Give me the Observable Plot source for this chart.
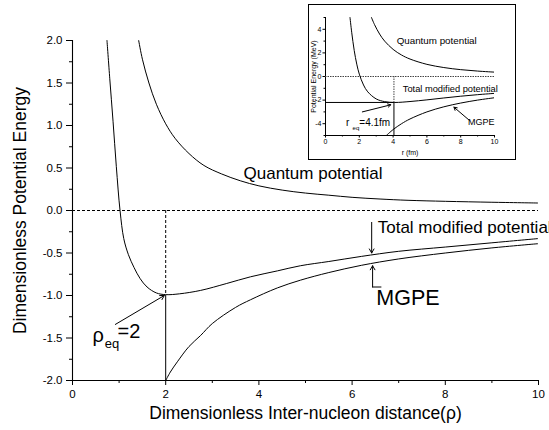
<!DOCTYPE html>
<html><head><meta charset="utf-8">
<script src="https://cdn.jsdelivr.net/npm/d3@7"></script>
<script src="https://cdn.jsdelivr.net/npm/@observablehq/plot@0.6"></script>
<style>
body{margin:0;background:#fff;}
#wrap{position:relative;width:549px;height:430px;overflow:hidden;background:#fff;}
#inset{position:absolute;left:308px;top:4px;width:206px;height:154px;border:1px solid #000;background:#fff;}
svg{display:block;}
</style></head><body><div id="wrap"><div id="main"></div><div id="inset"></div></div>
<script>
// ---------- Main chart data (dimensionless) ----------
const rhoQuantum = [1.42, 1.5, 1.64, 1.8, 2.0, 2.2, 2.5, 2.82, 3.2, 3.6, 4.0, 4.5, 5.0, 5.5, 6.0, 6.6, 7.2, 8.0, 9.0, 10.0];
const quantum    = [2.0, 1.78, 1.5, 1.25, 1.02, 0.85, 0.67, 0.53, 0.43, 0.35, 0.29, 0.24, 0.205, 0.18, 0.155, 0.135, 0.12, 0.108, 0.097, 0.088];
const rhoTotal   = [0.74, 0.8, 0.87, 0.94, 1.02, 1.1, 1.2, 1.32, 1.45, 1.6, 1.8, 2.0, 2.3, 2.75, 3.3, 3.82, 4.4, 4.89, 5.5, 6.2, 7.0, 8.0, 9.0, 10.0];
const total      = [2.0, 1.55, 1.05, 0.52, 0.0, -0.33, -0.52, -0.67, -0.8, -0.9, -0.97, -0.99, -0.98, -0.94, -0.86, -0.78, -0.71, -0.65, -0.6, -0.54, -0.48, -0.43, -0.38, -0.33];
const rhoMGPE    = [2.0, 2.1, 2.25, 2.5, 2.75, 3.0, 3.5, 3.82, 4.4, 4.89, 5.5, 6.2, 7.0, 8.0, 9.0, 10.0];
const mgpe       = [-2.0, -1.9, -1.78, -1.6, -1.47, -1.33, -1.14, -1.05, -0.91, -0.82, -0.73, -0.645, -0.57, -0.5, -0.44, -0.39];
const rhoEq = 2, eMin = -1;
const xMajor = [0, 2, 4, 6, 8, 10], xMajorLabels = ["0", "2", "4", "6", "8", "10"];
const xMinor = [1, 3, 5, 7, 9];
const yMajor = [-2, -1.5, -1, -0.5, 0, 0.5, 1, 1.5, 2];
const yMajorLabels = ["-2.0", "-1.5", "-1.0", "-0.5", "0.0", "0.5", "1.0", "1.5", "2.0"];
const yMinor = [-1.75, -1.25, -0.75, -0.25, 0.25, 0.75, 1.25, 1.75];

// ---------- Inset data (MeV vs fm) ----------
const rQuantum  = [2.72, 2.9, 3.2, 3.5, 4.0, 4.5, 5.0, 6.0, 7.0, 8.0, 9.0, 10.0];
const quantumMeV = [5.0, 4.4, 3.6, 3.0, 2.3, 1.82, 1.48, 1.03, 0.76, 0.58, 0.46, 0.37];
const rTotal    = [1.45, 1.55, 1.7, 1.85, 2.0, 2.25, 2.5, 3.0, 3.5, 4.1, 5.0, 6.0, 7.0, 8.0, 9.0, 10.0];
const totalMeV  = [5.0, 3.75, 2.2, 1.05, 0.2, -0.72, -1.3, -1.9, -2.13, -2.2, -2.12, -1.98, -1.82, -1.67, -1.54, -1.43];
const rMGPE     = [3.6, 4.0, 4.5, 5.0, 6.0, 7.0, 8.0, 9.0, 10.0];
const mgpeMeV   = [-5.0, -4.5, -4.0, -3.6, -3.0, -2.57, -2.25, -2.0, -1.8];
const rEq = 4.05, eMinMeV = -2.2;
const rMajor = [0, 2, 4, 6, 8, 10], rMajorLabels = ["0", "2", "4", "6", "8", "10"];
const rMinor = [1, 3, 5, 7, 9];
const eMajor = [-4, -2, 0, 2, 4], eMajorLabels = ["-4", "-2", "0", "2", "4"];
const eMinor = [-5, -3, -1, 1, 3, 5];

const FONT = "'Liberation Sans', Arial, Helvetica, sans-serif";
const id = d => d;

const main = Plot.plot({
  width: 549, height: 430,
  marginLeft: 72, marginRight: 11, marginTop: 40, marginBottom: 50,
  style: {fontFamily: FONT, fontSize: "11.5px", background: "white", color: "black"},
  x: {domain: [0, 10]},
  y: {domain: [-2, 2]},
  marks: [
    Plot.axisX(xMinor, {tickSize: 3, tickFormat: () => "", label: null}),
    Plot.axisX(xMajor, {tickSize: 5, tickPadding: 4, tickFormat: d => xMajorLabels[xMajor.indexOf(d)], label: null}),
    Plot.axisY(yMinor, {tickSize: 3, tickFormat: () => "", label: null}),
    Plot.axisY(yMajor, {tickSize: 6, tickPadding: 4, tickFormat: d => yMajorLabels[yMajor.indexOf(d)], label: null}),
    Plot.ruleX([0], {stroke: "black", strokeWidth: 1.1}),
    Plot.ruleY([-2], {stroke: "black", strokeWidth: 1.1}),
    // reference lines
    Plot.ruleY([0], {stroke: "black", strokeDasharray: "3,2"}),
    Plot.ruleX([rhoEq], {y1: [0], y2: [eMin], stroke: "black", strokeDasharray: "3,2"}),
    Plot.ruleX([rhoEq], {y1: [eMin], y2: [-2], stroke: "black"}),
    // curves
    Plot.line(quantum, {x: rhoQuantum, y: id, curve: "catmull-rom", stroke: "black", strokeWidth: 1, clip: true}),
    Plot.line(total, {x: rhoTotal, y: id, curve: "catmull-rom", stroke: "black", strokeWidth: 1, clip: true}),
    Plot.line(mgpe, {x: rhoMGPE, y: id, curve: "catmull-rom", stroke: "black", strokeWidth: 1, clip: true}),
    // annotations
    Plot.text(["Quantum potential"], {x: [3.67], y: [0.44], text: id, textAnchor: "start", fontSize: 17}),
    Plot.text(["Total modified potential"], {x: [6.55], y: [-0.196], text: id, textAnchor: "start", fontSize: 17}),
    Plot.arrow([0], {x1: [6.42], y1: [-0.14], x2: [6.42], y2: [-0.5], headLength: 7, stroke: "black", strokeWidth: 1}),
    Plot.text(["MGPE"], {x: [6.52], y: [-1.035], text: id, textAnchor: "start", fontSize: 21.5}),
    Plot.arrow([0], {x1: [6.44], y1: [-0.9], x2: [6.44], y2: [-0.65], headLength: 7, stroke: "black", strokeWidth: 1}),
    Plot.line([0, 1], {x: [6.44, 6.62], y: [-0.9, -0.9], stroke: "black", strokeWidth: 1}),
    Plot.text(["ρ"], {x: [0.43], y: [-1.47], text: id, textAnchor: "start", fontSize: 20}),
    Plot.text(["eq"], {x: [0.69], y: [-1.565], text: id, textAnchor: "start", fontSize: 13}),
    Plot.text(["=2"], {x: [0.966], y: [-1.43], text: id, textAnchor: "start", fontSize: 20}),
    Plot.arrow([0], {x1: [0.92], y1: [-1.34], x2: [1.97], y2: [-1.0], headLength: 7, stroke: "black", strokeWidth: 1}),
    // axis titles
    Plot.text(["Dimensionless Inter-nucleon distance(ρ)"], {frameAnchor: "bottom", dy: 33, textAnchor: "middle", lineAnchor: "middle", text: id, fontSize: 17.5}),
    Plot.text(["Dimensionless Potential Energy"], {frameAnchor: "left", rotate: -90, dx: -52, textAnchor: "middle", lineAnchor: "middle", text: id, fontSize: 17.5})
  ]
});
document.getElementById("main").append(main);

const inset = Plot.plot({
  width: 206, height: 154,
  marginLeft: 16, marginRight: 21, marginTop: 12, marginBottom: 24,
  style: {fontFamily: FONT, fontSize: "7px", background: "white", color: "black"},
  x: {domain: [0, 10]},
  y: {domain: [-5, 5]},
  marks: [
    Plot.axisX(rMinor, {tickSize: 1.5, tickFormat: () => "", label: null}),
    Plot.axisX(rMajor, {tickSize: 2.5, tickPadding: 1.5, tickFormat: d => rMajorLabels[rMajor.indexOf(d)], label: null}),
    Plot.axisY(eMinor, {tickSize: 1.5, tickFormat: () => "", label: null}),
    Plot.axisY(eMajor, {tickSize: 2.5, tickPadding: 1.5, tickFormat: d => eMajorLabels[eMajor.indexOf(d)], label: null}),
    Plot.ruleX([0], {stroke: "black"}),
    Plot.ruleY([-5], {stroke: "black"}),
    Plot.ruleY([0], {stroke: "#444", strokeDasharray: "1.5,1"}),
    Plot.ruleX([rEq], {y1: [0], y2: [eMinMeV], stroke: "#444", strokeDasharray: "1.5,1"}),
    Plot.ruleX([rEq], {y1: [eMinMeV], y2: [-5], stroke: "black"}),
    Plot.ruleY([eMinMeV], {x1: [0], x2: [rEq], stroke: "black"}),
    Plot.line(quantumMeV, {x: rQuantum, y: id, curve: "catmull-rom", stroke: "black", strokeWidth: 1, clip: true}),
    Plot.line(totalMeV, {x: rTotal, y: id, curve: "catmull-rom", stroke: "black", strokeWidth: 1, clip: true}),
    Plot.line(mgpeMeV, {x: rMGPE, y: id, curve: "catmull-rom", stroke: "black", strokeWidth: 1, clip: true}),
    Plot.text(["Quantum potential"], {x: [4.21], y: [2.98], text: id, textAnchor: "start", fontSize: 9.8}),
    Plot.text(["Total modified potential"], {x: [4.57], y: [-1.06], text: id, textAnchor: "start", fontSize: 9.3}),
    Plot.text(["r"], {x: [1.22], y: [-3.89], text: id, textAnchor: "start", fontSize: 10}),
    Plot.text(["eq"], {x: [1.6], y: [-4.4], text: id, textAnchor: "start", fontSize: 6}),
    Plot.text(["=4.1fm"], {x: [2.0], y: [-3.89], text: id, textAnchor: "start", fontSize: 10}),
    Plot.arrow([0], {x1: [2.18], y1: [-3.0], x2: [3.86], y2: [-2.4], headLength: 5, stroke: "black", strokeWidth: 1}),
    Plot.text(["MGPE"], {x: [8.43], y: [-3.89], text: id, textAnchor: "start", fontSize: 9}),
    Plot.arrow([0], {x1: [8.5], y1: [-3.7], x2: [7.6], y2: [-2.6], headLength: 5, stroke: "black", strokeWidth: 1}),
    Plot.text(["r (fm)"], {frameAnchor: "bottom", dy: 17, textAnchor: "middle", lineAnchor: "middle", text: id, fontSize: 7}),
    Plot.text(["Potential Energy (MeV)"], {frameAnchor: "left", rotate: -90, dx: -11.5, textAnchor: "middle", lineAnchor: "middle", text: id, fontSize: 7})
  ]
});
document.getElementById("inset").append(inset);
</script>
</body></html>
